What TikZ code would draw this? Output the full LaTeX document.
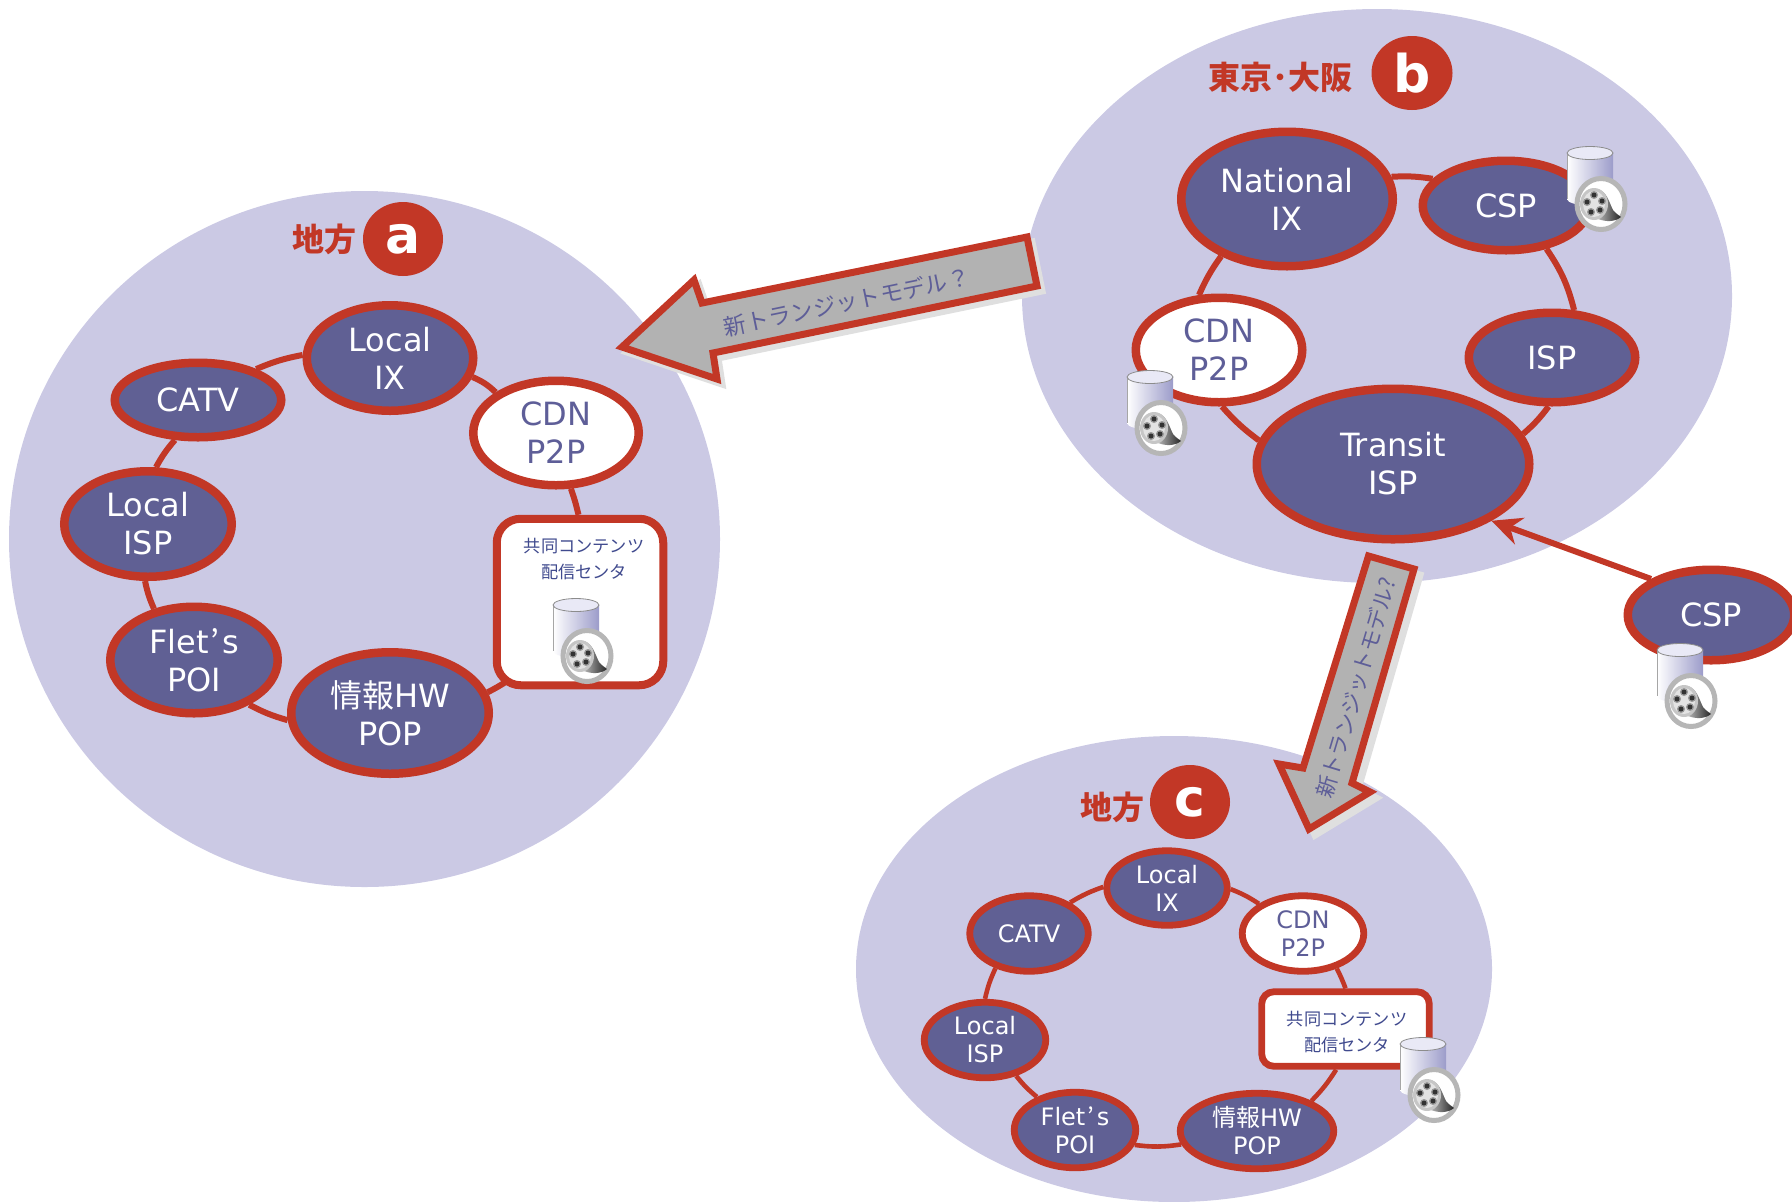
\documentclass[tikz,border=0pt]{standalone}
\usepackage{fontspec}
\setmainfont{DejaVu Sans}
\newfontfamily\cjk{Noto Sans CJK JP}
\newfontfamily\dvb{DejaVu Sans}
\usetikzlibrary{shapes.geometric,arrows.meta}
\definecolor{blob}{HTML}{CBC9E4}
\definecolor{nodeblue}{HTML}{606094}
\definecolor{netred}{HTML}{C23726}
\definecolor{arrowgrey}{HTML}{B2B2B2}
\definecolor{shadowgrey}{HTML}{DFDFDF}
\definecolor{boxtext}{HTML}{404A8E}
\definecolor{paletext}{HTML}{5E5E98}
\definecolor{dbright}{HTML}{9C9CCA}
\definecolor{dbtop}{HTML}{E9E9F6}
\definecolor{ringgrey}{HTML}{B6B6B6}
\newcommand{\fletmark}{\hspace{1.2pt}{\cjk ’}\hspace{1.2pt}}
\tikzset{
 sz/.style 2 args={minimum width=(#1-7.5)*0.5pt,minimum height=(#2-7.5)*0.5pt},
 net/.style={ellipse,draw=netred,inner sep=0pt,align=center},
 big/.style={net,line width=4.25pt,font=\fontsize{16}{19}\selectfont},
 small/.style={net,line width=3.4pt,font=\fontsize{12}{14}\selectfont},
 solid blue/.style={fill=nodeblue,text=white},
 pale/.style={fill=white,text=paletext},
 hubbox/.style={rectangle,draw=netred,fill=white,inner sep=0pt,rounded corners=12pt},
 hubtext/.style={text=boxtext,align=center,font=\cjk\fontsize{8.6}{12.8}\selectfont,inner sep=0pt},
 ring/.style={draw=netred,line width=3pt},
 ringc/.style={draw=netred,line width=2.3pt},
 badge/.style={ellipse,fill=netred,text=white,inner sep=0pt,font=\dvb\bfseries\fontsize{26}{26}\selectfont},
 place/.style={text=netred,inner sep=0pt,font=\cjk\bfseries\fontsize{16}{16}\selectfont},
 blobshape/.style={fill=blob,draw=none},
 bigarrow/.style={draw=netred,fill=arrowgrey,line width=3.5pt,miter limit=20},
 arrowshadow/.style={draw=shadowgrey,fill=shadowgrey,line width=3.5pt,miter limit=20},
 arrowtext/.style={text=paletext,inner sep=0pt,font=\cjk\fontsize{11.4}{11.4}\selectfont},
 filmdb/.pic={
  \shade[left color=white,right color=dbright,draw=none] (-34,-51) rectangle (12,-5);
  \shade[left color=white,right color=dbright,draw=none] (-11,-5) ellipse [x radius=23,y radius=6.5];
  \draw[gray!70,line width=.35pt] (-34,-51) -- (-34,-5);
  \draw[gray!90,line width=.4pt,fill=dbtop] (-11,-51) ellipse [x radius=23,y radius=6.5];
  \draw[ringgrey,fill=white,line width=2.5pt] (0,0) ellipse [x radius=24,y radius=25.5];
  \shade[left color=gray!60,right color=black!85,draw=none] (-3,-15) .. controls (6,-12) and (8,-2) .. (12,6) .. controls (15,10) and (18,11) .. (20,13) .. controls (14,18) and (5,18) .. (-3,15) -- cycle;
  \fill[gray!45] (-7,0) ellipse [x radius=14,y radius=16];
  \fill[gray!22] (-7,0) ellipse [x radius=11,y radius=13];
  \foreach \a/\b in {-7/-9,1/-3,-1/6,-10/8,-14/-2}{
    \fill[black!40] (\a,\b) circle [radius=4];
    \fill[black!80] (\a,\b) circle [radius=2.5];}
 }
}
\begin{document}
\begin{tikzpicture}[x=0.5pt,y=-0.5pt]
\useasboundingbox (0,0) rectangle (1792,1201);
% blobs
\fill[blobshape] (364.5,539) ellipse [x radius=355.5,y radius=348];
\fill[blobshape] (1377,296) ellipse [x radius=355,y radius=287];
\fill[blobshape] (1174,969) ellipse [x radius=318,y radius=233];
% region a
\node[big,solid blue,sz={174}{113}] (aix) at (390,358) {Local\\IX};
\node[big,solid blue,sz={174}{82}] (acatv) at (198,400) {CATV};
\node[big,pale,sz={173}{112}] (acdn) at (556,433) {CDN\\P2P};
\node[big,solid blue,sz={175}{113}] (aisp) at (148,524) {Local\\ISP};
\node[big,solid blue,sz={175}{114}] (aflet) at (194,660) {Flet\fletmark s\\POI};
\node[big,solid blue,sz={205}{129}] (apop) at (390,713) {{\cjk 情報}HW\\POP};
\node[hubbox,line width=4pt,sz={174}{174}] (abox) at (580,602) {};
\node[hubtext] (aboxt) at (584,559) {共同コンテンツ\\配信センタ};
\draw[ring] (aix.-13) to[bend left=10] (acdn.146);
\draw[ring] (acdn.-75) to[bend left=3] (abox.91);
\draw[ring] ([shift={(14,-8)}]abox.south west) to[bend left=3] (apop.12);
\draw[ring] (apop.184) to[bend left=6] (aflet.-39);
\draw[ring] (aflet.128) to[bend left=6] (aisp.-93);
\draw[ring] (aisp.82) to[bend left=6] (acatv.-120);
\draw[ring] (acatv.28) to[bend left=6] (aix.178);
\pic at (587,656) {filmdb};
\node[badge,sz={87.5}{81.5}] (abadge) at (403,239) {\raisebox{-1.5pt}{a}};
\node[place] (aplace) at (324,239) {地方};
% region b
\node[big,solid blue,sz={219}{142}] (nat) at (1287,199) {National\\IX};
\node[big,solid blue,sz={174}{97}] (csp) at (1506,205.5) {CSP};
\node[big,solid blue,sz={174}{97}] (isp) at (1552,357.5) {ISP};
\node[big,pale,sz={174}{112}] (bcdn) at (1219,350) {CDN\\P2P};
\node[big,solid blue,sz={280}{158}] (tr) at (1393,464) {Transit\\ISP};
\draw[ring] (nat.12.5) to[bend left=6] (csp.160);
\draw[ring] (csp.-47) to[bend left=10] (isp.65);
\draw[ring] (isp.-94) to[bend left=6] (tr.13);
\draw[ring] (tr.170) to[bend left=6] (bcdn.-87);
\draw[ring] (bcdn.110) to[bend left=6] (nat.221);
\pic at (1601,204) {filmdb};
\pic at (1161,428) {filmdb};
\node[badge,sz={88.5}{81.5}] (bbadge) at (1412,73) {b};
\node[place] (bplace) at (1280,77) {東京･大阪};
% outside CSP
\node[big,solid blue,sz={174}{98}] (cspr) at (1711,615) {CSP};
\draw[draw=netred,line width=3pt,-{Stealth[length=15pt,width=14pt,inset=5pt]}] (cspr.149) -- (tr.-30);
\pic at (1691,701) {filmdb};
% region c
\node[small,solid blue,sz={128}{82}] (cix) at (1167,888) {Local\\IX};
\node[small,solid blue,sz={126}{83}] (ccatv) at (1029,933.5) {CATV};
\node[small,pale,sz={129}{83}] (ccdn) at (1303,933.5) {CDN\\P2P};
\node[small,solid blue,sz={129}{83}] (cisp) at (985,1040) {Local\\ISP};
\node[small,solid blue,sz={129}{83}] (cflet) at (1075,1130) {Flet\fletmark s\\POI};
\node[small,solid blue,sz={161}{83}] (cpop) at (1257,1131) {{\cjk 情報}HW\\POP};
\node[hubbox,line width=3.4pt,rounded corners=6pt,sz={175}{82}] (cbox) at (1345.5,1029) {};
\node[hubtext] (cboxt) at (1347,1032) {共同コンテンツ\\配信センタ};
\draw[ringc] (cix.-1) to[bend left=6] (ccdn.146);
\draw[ringc] (ccdn.-46) to[bend left=3] (cbox.90);
\draw[ringc] (cbox.-103) to[bend left=6] (cpop.29);
\draw[ringc] (cpop.190) to[bend left=8] (cflet.-14);
\draw[ringc] (cflet.139) to[bend left=6] (cisp.-49);
\draw[ringc] (cisp.90) to[bend left=6] (ccatv.-134);
\draw[ringc] (ccatv.37) to[bend left=6] (cix.179);
\pic at (1434,1095) {filmdb};
\node[badge,sz={87.5}{81.5}] (cbadge) at (1190,802) {\raisebox{-1.5pt}{c}};
\node[place] (cplace) at (1112,807) {地方};
% big arrows
\draw[arrowshadow,shift={(5,5)}] (622,347) -- (694,280) -- (702,303) -- (1027,237) -- (1037,286) -- (713,353) -- (717,379) -- cycle;
\draw[bigarrow] (622,347) -- (694,280) -- (702,303) -- (1027,237) -- (1037,286) -- (713,353) -- (717,379) -- cycle;
\node[arrowtext,rotate=11.7] (t1) at (847,302) {新トランジットモデル？};
\draw[arrowshadow,shift={(6,6)}] (1368.5,556) -- (1414,569) -- (1352,783) -- (1370,792) -- (1309,829) -- (1279,764) -- (1303,768) -- cycle;
\draw[bigarrow] (1368.5,556) -- (1414,569) -- (1352,783) -- (1370,792) -- (1309,829) -- (1279,764) -- (1303,768) -- cycle;
\node[arrowtext,font=\cjk\fontsize{10.9}{10.9}\selectfont,rotate=73.3] (t2) at (1356,688) {新トランジットモデル?};
\end{tikzpicture}
\end{document}
